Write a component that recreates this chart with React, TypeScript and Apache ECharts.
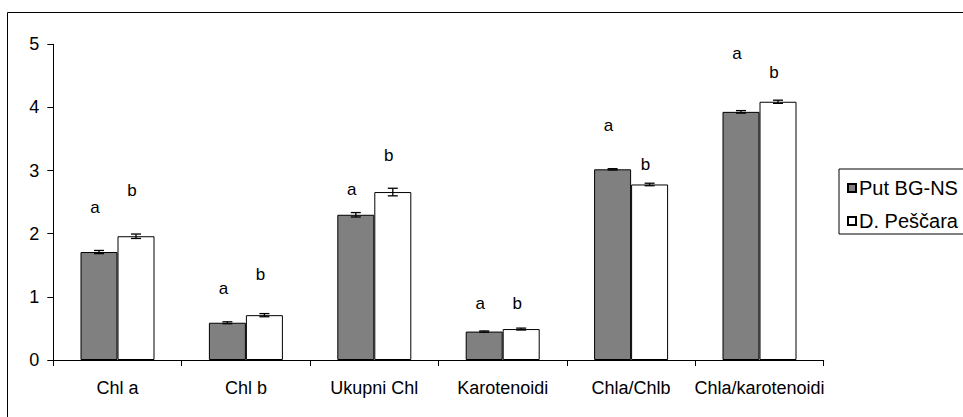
import React, { useEffect, useRef } from "react";
import * as echarts from "echarts";

const categories = ["Chl a", "Chl b", "Ukupni Chl", "Karotenoidi", "Chla/Chlb", "Chla/karotenoidi"];
const seriesNames = ["Put BG-NS", "D. Peščara"];
const grayValues = [1.71, 0.59, 2.3, 0.45, 3.02, 3.93];
const whiteValues = [1.96, 0.71, 2.66, 0.49, 2.78, 4.09];
const grayErrors = [0.025, 0.015, 0.035, 0.01, 0.01, 0.02];
const whiteErrors = [0.035, 0.025, 0.06, 0.015, 0.02, 0.025];
const grayLetters = ["a", "a", "a", "a", "a", "a"];
const whiteLetters = ["b", "b", "b", "b", "b", "b"];
const grayLetterY = [2.41, 1.13, 2.7, 0.9, 3.71, 4.85];
const whiteLetterY = [2.69, 1.36, 3.24, 0.9, 3.1, 4.55];
const yTicks = [0, 1, 2, 3, 4, 5];

const FONT = "'Liberation Sans', Arial, sans-serif";
const BAR_W = 37;

export default function App() {
  const ref = useRef<HTMLDivElement>(null);
  useEffect(() => {
    if (!ref.current) return;
    const chart = echarts.init(ref.current, null, { renderer: "svg" });

    const errSeries = (vals: number[], errs: number[], side: number) => ({
      type: "custom",
      z: 5,
      silent: true,
      data: vals.map((v, i) => [i, v, errs[i]]),
      encode: { x: 0, y: 1 },
      renderItem: (params: any, api: any) => {
        const i = api.value(0);
        const v = api.value(1);
        const e = api.value(2);
        const hi = api.coord([i, v + e]);
        const lo = api.coord([i, v - e]);
        const x = hi[0] + side * (BAR_W / 2);
        const cw = 5;
        const st = { stroke: "#000", lineWidth: 1.3 };
        return {
          type: "group",
          children: [
            { type: "line", shape: { x1: x, y1: hi[1], x2: x, y2: lo[1] }, style: st },
            { type: "line", shape: { x1: x - cw, y1: hi[1], x2: x + cw, y2: hi[1] }, style: st },
            { type: "line", shape: { x1: x - cw, y1: lo[1], x2: x + cw, y2: lo[1] }, style: st },
          ],
        };
      },
    });

    const letterSeries = (ys: number[], letters: string[], side: number) => ({
      type: "custom",
      z: 6,
      silent: true,
      data: ys.map((v, i) => [i, v]),
      encode: { x: 0, y: 1 },
      renderItem: (params: any, api: any) => {
        const i = api.value(0);
        const p = api.coord([i, api.value(1)]);
        return {
          type: "text",
          x: p[0] + side * (BAR_W / 2) - 4,
          y: p[1],
          style: {
            text: letters[params.dataIndex],
            fontSize: 17,
            fontFamily: FONT,
            fill: "#000",
            align: "center",
            verticalAlign: "middle",
          },
        };
      },
    });

    chart.setOption({
      animation: false,
      backgroundColor: "#fff",
      textStyle: { fontFamily: FONT, color: "#000" },
      graphic: [
        {
          type: "rect",
          shape: { x: 7.5, y: 12.5, width: 1000, height: 420 },
          style: { fill: "none", stroke: "#000", lineWidth: 1 },
          z: 0,
        },
      ],
      legend: {
        orient: "vertical",
        left: 839,
        top: 169,
        data: seriesNames,
        icon: "rect",
        itemWidth: 8,
        itemHeight: 8,
        itemGap: 13,
        padding: [9, 40, 3, 8],
        borderColor: "#000",
        borderWidth: 1,
        backgroundColor: "#fff",
        textStyle: { fontSize: 20, fontFamily: FONT, color: "#000", padding: [0, 0, 0, -2] },
      },
      grid: { left: 53.3, right: 139.3, top: 44.3, bottom: 57, containLabel: false },
      xAxis: {
        type: "category",
        data: categories,
        axisLine: { lineStyle: { color: "#000", width: 1 } },
        axisTick: { show: true, length: 6, lineStyle: { color: "#000" } },
        axisLabel: { interval: 0, margin: 19, fontSize: 18, color: "#000", fontFamily: FONT },
      },
      yAxis: {
        type: "value",
        min: 0,
        max: 5,
        interval: 1,
        axisLine: { show: true, lineStyle: { color: "#000", width: 1 } },
        axisTick: { show: true, length: 6, lineStyle: { color: "#000" } },
        splitLine: { show: false },
        axisLabel: {
          margin: 14,
          fontSize: 18,
          color: "#000",
          fontFamily: FONT,
          formatter: (v: number) => (yTicks.includes(v) ? String(v) : ""),
        },
      },
      series: [
        {
          name: seriesNames[0],
          type: "bar",
          data: grayValues,
          barWidth: BAR_W,
          barGap: "0%",
          itemStyle: { color: "#808080", borderColor: "#000", borderWidth: 1 },
        },
        {
          name: seriesNames[1],
          type: "bar",
          data: whiteValues,
          barWidth: BAR_W,
          barGap: "0%",
          itemStyle: { color: "#ffffff", borderColor: "#000", borderWidth: 1 },
        },
        errSeries(grayValues, grayErrors, -1),
        errSeries(whiteValues, whiteErrors, 1),
        letterSeries(grayLetterY, grayLetters, -1),
        letterSeries(whiteLetterY, whiteLetters, 1),
      ],
    });
    return () => chart.dispose();
  }, []);
  return (
    <div
      ref={ref}
      style={{ position: "fixed", left: 0, top: 0, width: 963, height: 417 }}
    />
  );
}
